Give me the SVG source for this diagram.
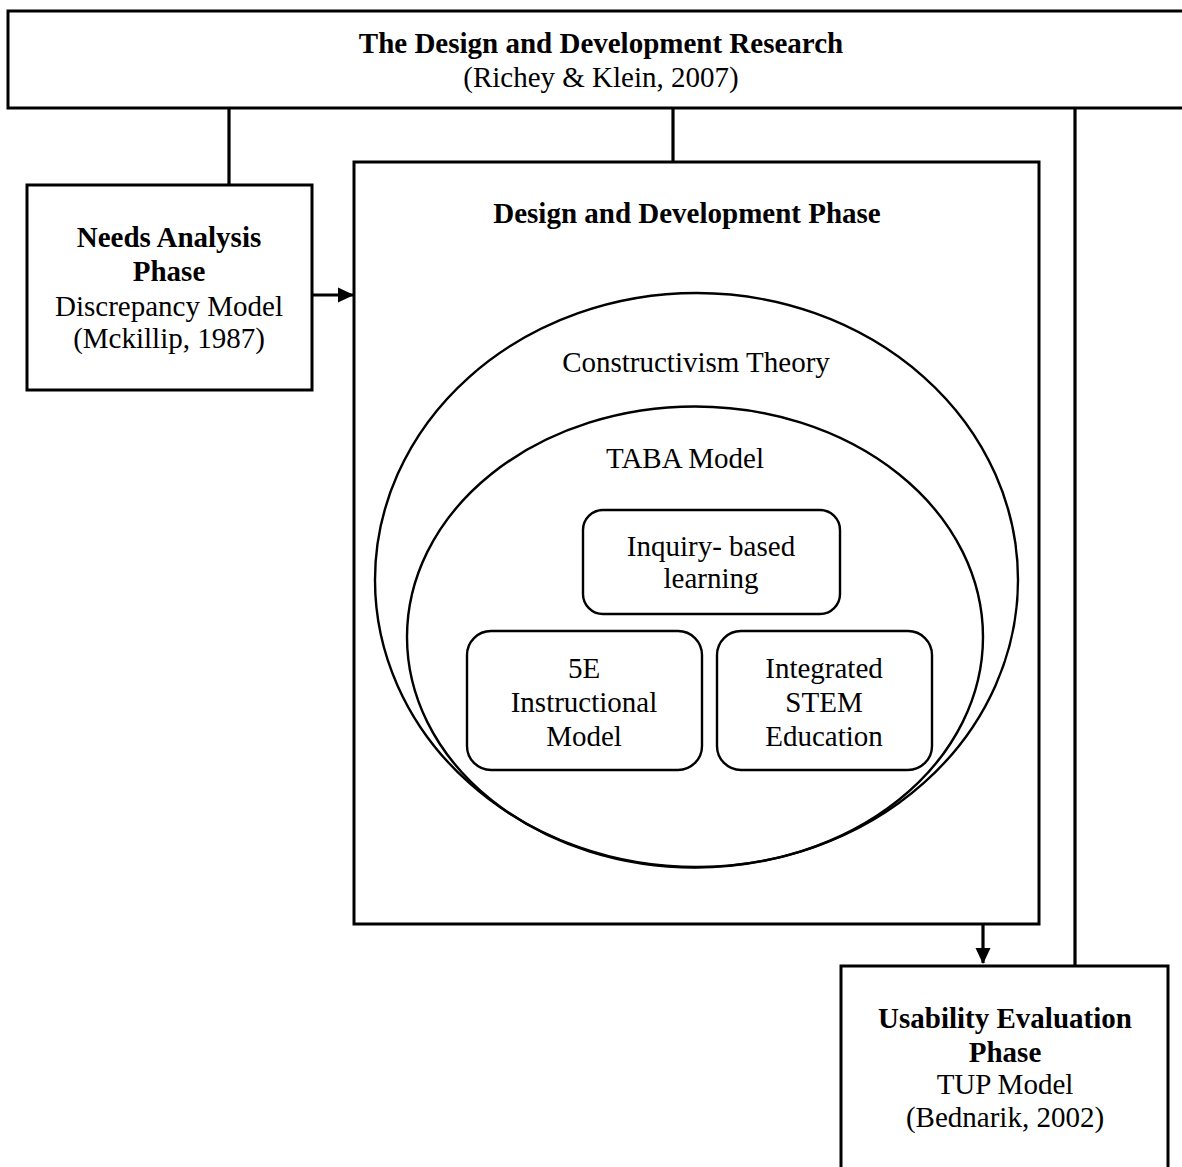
<svg xmlns="http://www.w3.org/2000/svg" width="1182" height="1167" viewBox="0 0 1182 1167">
<defs>
<style>
.box{fill:#fff;stroke:#000;stroke-width:3}
.ell{fill:none;stroke:#000;stroke-width:2.4}
.rbox{fill:#fff;stroke:#000;stroke-width:2.4}
.con{fill:none;stroke:#000;stroke-width:3.2}
text{font-family:"Liberation Serif","Times New Roman",serif;font-size:29px;fill:#000;text-anchor:middle}
.b{font-weight:bold}
</style>
<marker id="ah" viewBox="0 0 16 16" refX="15" refY="8" markerWidth="16" markerHeight="16" markerUnits="userSpaceOnUse" orient="auto">
<path d="M0,0.5 L16,8 L0,15.5 z" fill="#000"/>
</marker>
</defs>
<rect width="1182" height="1167" fill="#fff"/>
<g id="connectors">
<line class="con" x1="229" y1="108" x2="229" y2="185"/>
<line class="con" x1="673" y1="108" x2="673" y2="162"/>
<line class="con" x1="1075" y1="108" x2="1075" y2="966"/>
<line class="con" x1="312" y1="295" x2="353" y2="295" marker-end="url(#ah)"/>
<line class="con" x1="983" y1="924" x2="983" y2="963" marker-end="url(#ah)"/>
</g>
<g id="research">
<rect class="box" x="8" y="11" width="1190" height="97"/>
<text class="b" x="601" y="53">The Design and Development Research</text>
<text x="601" y="87">(Richey &amp; Klein, 2007)</text>
</g>
<g id="needs">
<rect class="box" x="27" y="185" width="285" height="205"/>
<text class="b" x="169" y="247">Needs Analysis</text>
<text class="b" x="169" y="281">Phase</text>
<text x="169" y="316">Discrepancy Model</text>
<text x="169" y="348">(Mckillip, 1987)</text>
</g>
<g id="design">
<rect class="box" x="354" y="162" width="685" height="762"/>
<text class="b" x="687" y="223">Design and Development Phase</text>
</g>
<g id="constructivism">
<ellipse class="ell" cx="696.5" cy="580" rx="321.5" ry="287"/>
<text x="696" y="372">Constructivism Theory</text>
</g>
<g id="taba">
<ellipse class="ell" cx="695" cy="637" rx="288" ry="230.5"/>
<text x="685" y="468">TABA Model</text>
</g>
<g id="inquiry">
<rect class="rbox" x="583" y="510" width="257" height="104" rx="20"/>
<text x="711" y="556">Inquiry- based</text>
<text x="711" y="588">learning</text>
</g>
<g id="fiveE">
<rect class="rbox" x="467" y="631" width="235" height="139" rx="24"/>
<text x="584" y="678">5E</text>
<text x="584" y="712">Instructional</text>
<text x="584" y="746">Model</text>
</g>
<g id="stem">
<rect class="rbox" x="717" y="631" width="215" height="139" rx="24"/>
<text x="824" y="678">Integrated</text>
<text x="824" y="712">STEM</text>
<text x="824" y="746">Education</text>
</g>
<g id="usability">
<rect class="box" x="841" y="966" width="327" height="220"/>
<text class="b" x="1005" y="1028">Usability Evaluation</text>
<text class="b" x="1005" y="1062">Phase</text>
<text x="1005" y="1094">TUP Model</text>
<text x="1005" y="1127">(Bednarik, 2002)</text>
</g>
</svg>
